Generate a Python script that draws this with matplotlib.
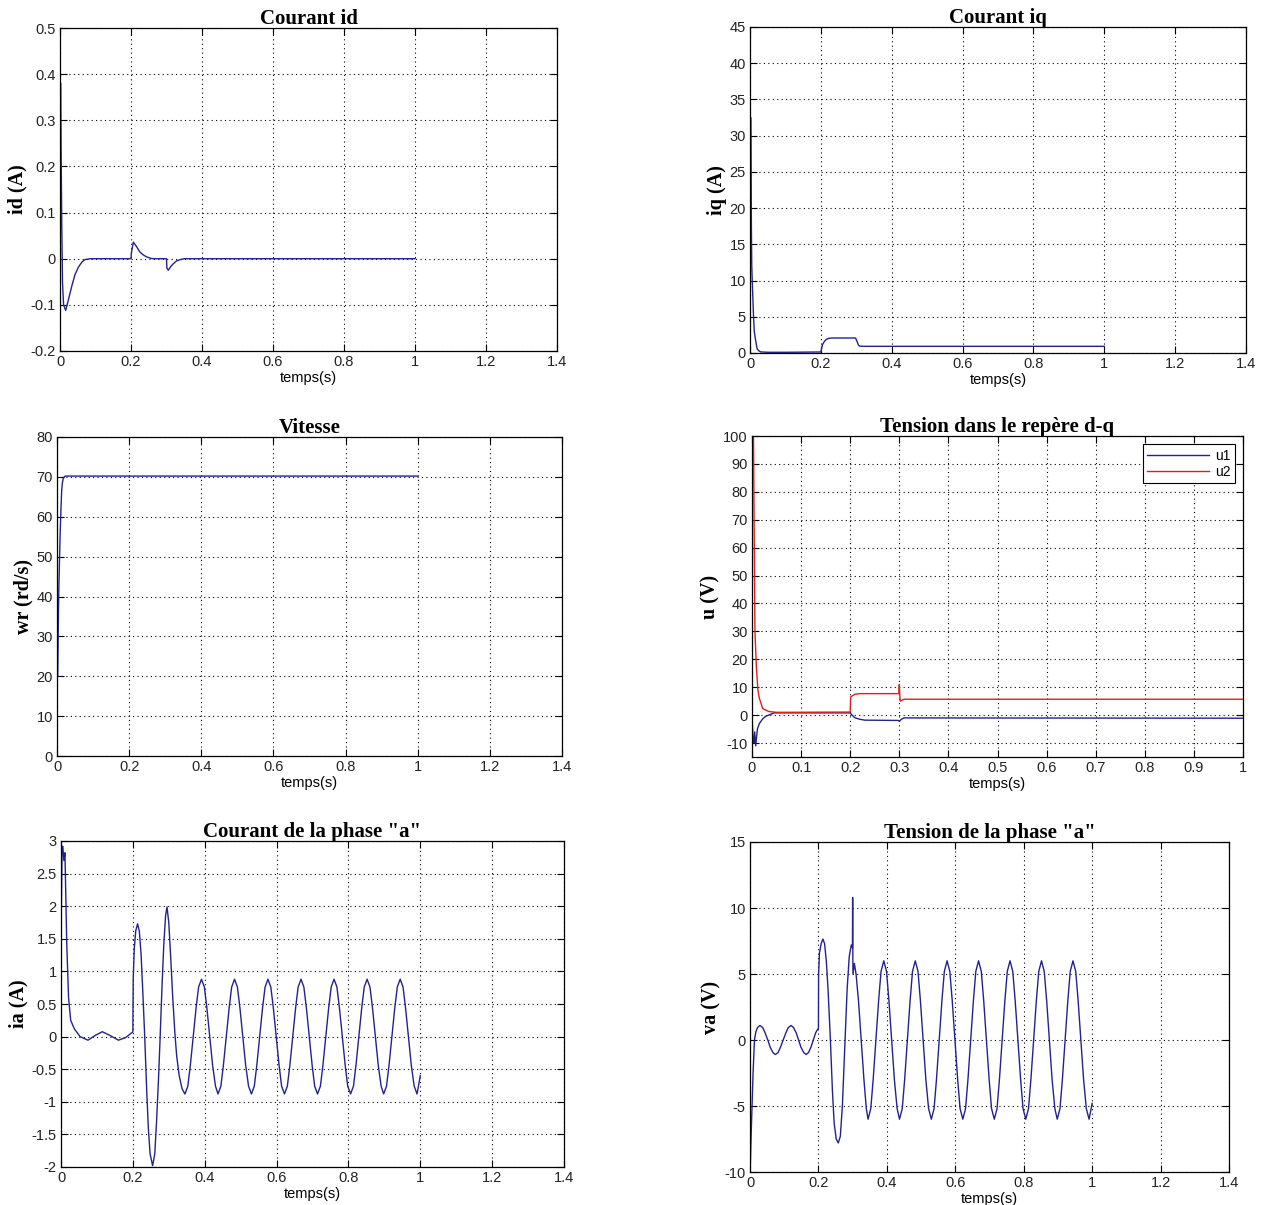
import numpy as np
from matplotlib import pyplot as plt

# ---- data (time in s) ----
t_id = [0, 0.001, 0.002, 0.003, 0.005, 0.007, 0.010, 0.016, 0.025, 0.033, 0.042, 0.052, 0.062, 0.07, 0.085,
        0.2, 0.201, 0.2066, 0.215, 0.225, 0.235, 0.244, 0.255, 0.263,
        0.3, 0.301, 0.305, 0.312, 0.319, 0.328, 0.338, 0.35, 1.0]
id_vals = [0.0, 0.38, 0.38, 0.25, 0.07, -0.05, -0.1, -0.112, -0.085, -0.06, -0.035, -0.018, -0.007, -0.002, 0.0,
           0.0, 0.012, 0.036, 0.027, 0.0145, 0.008, 0.004, 0.001, 0.0,
           0.0, -0.02, -0.025, -0.017, -0.011, -0.005, -0.002, 0.0, 0.0]

t_iq = [0, 0.0015, 0.002, 0.003, 0.004, 0.005, 0.007, 0.01, 0.012, 0.015, 0.02, 0.025, 0.03, 0.05, 0.1, 0.2,
        0.202, 0.205, 0.21, 0.215, 0.22, 0.23, 0.298, 0.302, 0.306, 0.31, 0.32, 1.0]
iq_vals = [0, 32.5, 32.5, 25, 17, 12, 9, 5, 3, 2, 0.6, 0.3, 0.15, 0.1, 0.1, 0.14,
           0.6, 1.2, 1.6, 1.85, 2.0, 2.07, 2.07, 1.6, 1.1, 0.95, 0.92, 0.92]

t_wr = [0.002, 0.003, 0.004, 0.005, 0.0085, 0.011, 0.013, 0.015, 0.017, 0.02, 0.023, 1.0]
wr_vals = [20, 28, 36, 41.5, 55, 62, 66.6, 68.5, 69.5, 70, 70.2, 70.2]

t_u1 = [0, 0.002, 0.004, 0.0055, 0.0075, 0.011, 0.015, 0.022, 0.028, 0.034, 0.045, 0.2,
        0.205, 0.21, 0.22, 0.23, 0.298, 0.3, 0.305, 0.31, 1.0]
u1_vals = [0, -8, -10, -6, -11, -5, -3, -1.3, -0.4, 0.0, 0.8, 0.8,
           -0.2, -1.0, -1.5, -1.8, -1.9, -2.2, -1.4, -1.0, -1.1]
t_u2 = [0, 0.003, 0.006, 0.009, 0.012, 0.015, 0.022, 0.034, 0.05, 0.2, 0.201, 0.205, 0.21, 0.22,
        0.299, 0.3, 0.301, 0.302, 0.306, 0.31, 1.0]
u2_vals = [120, 100, 30, 17, 9, 6, 2.3, 1.3, 1.0, 1.1, 6.5, 7.0, 7.5, 7.7,
           7.7, 11, 7, 5.0, 5.4, 5.7, 5.7]

# phase current: start-up and load steps
t_ia_start = [0, 0.003, 0.005, 0.008, 0.011, 0.016, 0.021, 0.027, 0.037, 0.053, 0.075, 0.096,
              0.115, 0.139, 0.16, 0.18, 0.197, 0.2,
              0.201, 0.204, 0.208, 0.213, 0.218, 0.223, 0.228, 0.233, 0.238, 0.243, 0.248, 0.255,
              0.261, 0.266, 0.271, 0.276, 0.281, 0.286, 0.291, 0.295, 0.300, 0.305, 0.311, 0.317,
              0.322, 0.329, 0.337]
ia_start = [1.5, 2.9, 2.92, 2.7, 2.82, 1.43, 0.6, 0.25, 0.12, 0.0, -0.055, 0.02,
            0.075, 0.01, -0.055, -0.015, 0.06, 0.07,
            0.9, 1.35, 1.62, 1.73, 1.62, 1.25, 0.65, 0.0, -0.75, -1.4, -1.8, -1.98,
            -1.8, -1.3, -0.7, 0.0, 0.75, 1.4, 1.85, 1.99, 1.75, 1.25, 0.6, 0.05,
            -0.3, -0.6, -0.8]

# phase voltage: start-up and load steps
t_va_start = [0.0, 0.001, 0.003, 0.006, 0.009, 0.013, 0.017, 0.022, 0.029, 0.037, 0.044, 0.052,
              0.059, 0.067, 0.074, 0.082, 0.089, 0.097, 0.105, 0.112, 0.12, 0.127, 0.135, 0.142,
              0.149, 0.157, 0.164, 0.171, 0.178, 0.185, 0.192, 0.2,
              0.2005, 0.203, 0.208, 0.213, 0.218, 0.223, 0.228, 0.235, 0.241, 0.246, 0.252, 0.258,
              0.264, 0.27, 0.278, 0.284, 0.29, 0.296, 0.2995, 0.3, 0.3005, 0.301, 0.305, 0.31,
              0.317, 0.325, 0.333, 0.340]
va_start = [-9.5, -9.5, -7.5, -5.0, -2.5, 0.0, 0.6, 0.95, 1.1, 0.95, 0.55, 0.0,
            -0.55, -0.95, -1.1, -0.95, -0.55, 0.0, 0.55, 0.95, 1.1, 0.95, 0.55, 0.0,
            -0.55, -0.95, -1.1, -0.95, -0.55, 0.0, 0.55, 0.9,
            5.0, 6.6, 7.3, 7.65, 7.3, 6.0, 3.9, 0.0, -3.9, -6.3, -7.5, -7.8,
            -7.3, -5.0, 0.0, 3.9, 6.3, 7.2, 7.0, 10.8, 6.5, 5.0, 5.8, 5.0,
            3.0, 0.0, -3.0, -5.2]

# steady state after 0.345 s (common sample times, read every 30 deg)
t_steady = [0.345, 0.353, 0.360, 0.368, 0.376, 0.383, 0.391, 0.399, 0.406, 0.414, 0.422, 0.430,
            0.437, 0.445, 0.452, 0.460, 0.468, 0.475, 0.483, 0.491, 0.498, 0.506, 0.514, 0.522,
            0.530, 0.538, 0.545, 0.553, 0.561, 0.568, 0.576, 0.584, 0.591, 0.599, 0.607, 0.614,
            0.622, 0.630, 0.637, 0.645, 0.653, 0.660, 0.668, 0.676, 0.683, 0.691, 0.699, 0.706,
            0.714, 0.722, 0.729, 0.737, 0.745, 0.752, 0.760, 0.768, 0.775, 0.783, 0.791, 0.798,
            0.806, 0.814, 0.821, 0.829, 0.837, 0.844, 0.852, 0.860, 0.867, 0.875, 0.883, 0.891,
            0.898, 0.906, 0.913, 0.921, 0.929, 0.936, 0.944, 0.952, 0.959, 0.967, 0.975, 0.983,
            0.991, 1.0]
ia_steady = [-0.88, -0.76, -0.44, 0, 0.44, 0.76, 0.88, 0.76, 0.44, 0, -0.44, -0.76,
             -0.88, -0.76, -0.44, 0, 0.44, 0.76, 0.88, 0.76, 0.44, 0, -0.44, -0.76,
             -0.88, -0.76, -0.44, 0, 0.44, 0.76, 0.88, 0.76, 0.44, 0, -0.44, -0.76,
             -0.88, -0.76, -0.44, 0, 0.44, 0.76, 0.88, 0.76, 0.44, 0, -0.44, -0.76,
             -0.88, -0.76, -0.44, 0, 0.44, 0.76, 0.88, 0.76, 0.44, 0, -0.44, -0.76,
             -0.88, -0.76, -0.44, 0, 0.44, 0.76, 0.88, 0.76, 0.44, 0, -0.44, -0.76,
             -0.88, -0.76, -0.44, 0, 0.44, 0.76, 0.88, 0.76, 0.44, 0, -0.44, -0.76,
             -0.88, -0.6]
va_steady = [-6.0, -5.2, -3.0, 0, 3.0, 5.2, 6.0, 5.2, 3.0, 0, -3.0, -5.2,
             -6.0, -5.2, -3.0, 0, 3.0, 5.2, 6.0, 5.2, 3.0, 0, -3.0, -5.2,
             -6.0, -5.2, -3.0, 0, 3.0, 5.2, 6.0, 5.2, 3.0, 0, -3.0, -5.2,
             -6.0, -5.2, -3.0, 0, 3.0, 5.2, 6.0, 5.2, 3.0, 0, -3.0, -5.2,
             -6.0, -5.2, -3.0, 0, 3.0, 5.2, 6.0, 5.2, 3.0, 0, -3.0, -5.2,
             -6.0, -5.2, -3.0, 0, 3.0, 5.2, 6.0, 5.2, 3.0, 0, -3.0, -5.2,
             -6.0, -5.2, -3.0, 0, 3.0, 5.2, 6.0, 5.2, 3.0, 0, -3.0, -5.2,
             -6.0, -4.8]

BLUE = '#22228f'
RED = '#dd1f1f'
SERIF = 'Liberation Serif'
SANS = 'Liberation Sans'

plt.rcParams['font.family'] = SANS
plt.rcParams['font.size'] = 10


def style_axes(ax, title, ylabel, xlim, ylim, xticks, yticks):
    ax.set_xlim(xlim)
    ax.set_ylim(ylim)
    ax.set_xticks(xticks)
    ax.set_yticks(yticks)
    ax.set_xticklabels(['{:g}'.format(round(v, 2)) for v in xticks])
    ax.set_yticklabels(['{:g}'.format(round(v, 2)) for v in yticks])
    ax.tick_params(direction='in', top=True, right=True, length=5, width=0.8,
                   labelsize=10.5, labelcolor='#222222', pad=3)
    ax.grid(True, linestyle=(0, (1, 3)), color='black', linewidth=0.8)
    for s in ax.spines.values():
        s.set_linewidth(0.9)
    ax.set_title(title, family=SERIF, fontweight='bold', fontsize=15, pad=3)
    ax.set_ylabel(ylabel, family=SERIF, fontweight='bold', fontsize=14.5, labelpad=2)
    ax.set_xlabel('temps(s)', fontsize=10.5, labelpad=1)


W, H = 1264, 1205
fig = plt.figure(figsize=(W / 100, H / 100), dpi=100)


def box(x0, x1, y0, y1):
    return [x0 / W, (H - y1) / H, (x1 - x0) / W, (y1 - y0) / H]


xt14 = [0, 0.2, 0.4, 0.6, 0.8, 1.0, 1.2, 1.4]

ax1 = fig.add_axes(box(60, 557, 28, 351))
ax1.plot(t_id, id_vals, color=BLUE, lw=1.0)
style_axes(ax1, 'Courant id', 'id (A)', (0, 1.4), (-0.2, 0.5), xt14,
           [-0.2, -0.1, 0, 0.1, 0.2, 0.3, 0.4, 0.5])

ax2 = fig.add_axes(box(750, 1246, 27, 353))
ax2.plot(t_iq, iq_vals, color=BLUE, lw=1.0)
style_axes(ax2, 'Courant iq', 'iq (A)', (0, 1.4), (0, 45), xt14, list(range(0, 46, 5)))

ax3 = fig.add_axes(box(57, 562, 437, 756))
ax3.plot(t_wr, wr_vals, color=BLUE, lw=1.0)
style_axes(ax3, 'Vitesse', 'wr (rd/s)', (0, 1.4), (0, 80), xt14, list(range(0, 81, 10)))

ax4 = fig.add_axes(box(752, 1243, 436, 757))
ax4.plot(t_u1, u1_vals, color=BLUE, lw=1.0, label='u1')
ax4.plot(t_u2, u2_vals, color=RED, lw=1.0, label='u2')
style_axes(ax4, 'Tension dans le repère d-q', 'u (V)', (0, 1), (-15, 100),
           [round(0.1 * i, 1) for i in range(11)], list(range(-10, 101, 10)))
leg = ax4.legend(loc='upper right', fontsize=10, fancybox=False, framealpha=1,
                 edgecolor='black', handlelength=4.5, borderpad=0.3, labelspacing=0.2,
                 borderaxespad=0.6, handletextpad=0.4)
leg.get_frame().set_linewidth(0.8)

ax5 = fig.add_axes(box(61, 564, 841, 1167))
ax5.plot(t_ia_start + t_steady, ia_start + ia_steady, color=BLUE, lw=1.0)
style_axes(ax5, 'Courant de la phase "a"', 'ia (A)', (0, 1.4), (-2, 3), xt14,
           [-2, -1.5, -1, -0.5, 0, 0.5, 1, 1.5, 2, 2.5, 3])

ax6 = fig.add_axes(box(750, 1229, 842, 1172))
ax6.plot(t_va_start + t_steady, va_start + va_steady, color=BLUE, lw=1.0)
style_axes(ax6, 'Tension de la phase "a"', 'va (V)', (0, 1.4), (-10, 15), xt14,
           [-10, -5, 0, 5, 10, 15])

fig.savefig('out.png', dpi=100)
